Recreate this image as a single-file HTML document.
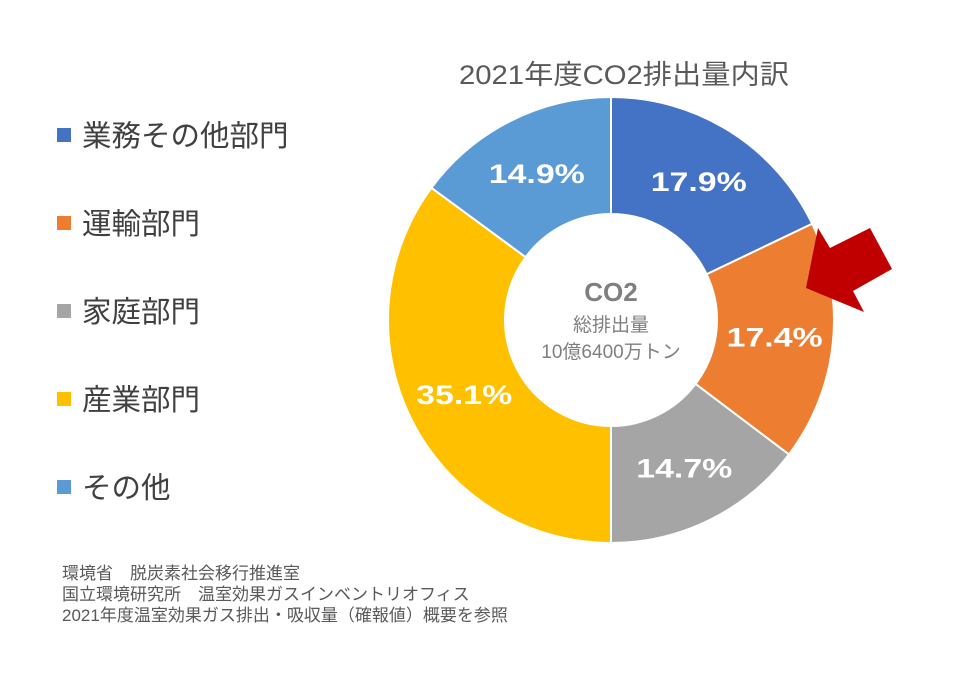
<!DOCTYPE html>
<html><head><meta charset="utf-8"><style>
body{margin:0;background:#fff;}
svg text{font-family:"Liberation Sans","Noto Sans CJK JP",sans-serif;}
</style></head><body>
<svg id="chart" width="973" height="679" viewBox="0 0 973 679" xmlns="http://www.w3.org/2000/svg">
<rect width="973" height="679" fill="#fff"/>
<text x="624" y="84" font-size="27" fill="#595959" text-anchor="middle" textLength="330" lengthAdjust="spacingAndGlyphs">2021年度CO2排出量内訳</text>
<g id="legend"></g>
<g id="slices"></g>
<g text-anchor="middle" fill="#7f7f7f">
<text x="611" y="301" font-size="26" font-weight="bold">CO2</text>
<text x="611" y="331" font-size="19">総排出量</text>
<text x="611" y="358" font-size="19">10億6400万トン</text>
</g>
<polygon points="806,288 818,228 830,248 870,228 892,269 853,291 864,312" fill="#c00000"/>
<g font-size="17" fill="#595959">
<text x="62" y="579">環境省　脱炭素社会移行推進室</text>
<text x="62" y="600">国立環境研究所　温室効果ガスインベントリオフィス</text>
<text x="62" y="621">2021年度温室効果ガス排出・吸収量（確報値）概要を参照</text>
</g>
</svg>
<script>
const categories=["業務その他部門","運輸部門","家庭部門","産業部門","その他"];
const values=[17.9,17.4,14.7,35.1,14.9];
const colors=["#4472c4","#ed7d31","#a5a5a5","#ffc000","#5b9bd5"];
const NS="http://www.w3.org/2000/svg";
const cx=611,cy=320,R=223,r=106;
const total=values.reduce((a,b)=>a+b,0);
const sl=document.getElementById('slices');
function pt(a,rad){return [cx+rad*Math.sin(a),cy-rad*Math.cos(a)];}
let acc=0;
values.forEach((v,i)=>{
  const a0=acc/total*2*Math.PI; acc+=v; const a1=acc/total*2*Math.PI;
  const large=(a1-a0)>Math.PI?1:0;
  const p0=pt(a0,R),p1=pt(a1,R),q1=pt(a1,r),q0=pt(a0,r);
  const p=document.createElementNS(NS,'path');
  p.setAttribute('d',`M${p0}A${R},${R} 0 ${large} 1 ${p1}L${q1}A${r},${r} 0 ${large} 0 ${q0}Z`);
  p.setAttribute('fill',colors[i]);p.setAttribute('stroke','#fff');p.setAttribute('stroke-width','2');
  
  
  sl.appendChild(p);
  const m=(a0+a1)/2,lp=pt(m,(R+r)/2);
  const t=document.createElementNS(NS,'text');
  t.setAttribute('x',lp[0]);t.setAttribute('y',lp[1]+10);
  t.setAttribute('text-anchor','middle');t.setAttribute('font-size','27');t.setAttribute('font-weight','bold');t.setAttribute('fill','#fff');
  t.setAttribute('textLength','96');t.setAttribute('lengthAdjust','spacingAndGlyphs');
  t.textContent=v.toFixed(1)+'%';
  
  
  sl.appendChild(t);
});
const lg=document.getElementById('legend');
categories.forEach((c,i)=>{
  const y=135+i*88;
  const g=document.createElementNS(NS,'g');
  
  
  const rc=document.createElementNS(NS,'rect');
  rc.setAttribute('x',57);rc.setAttribute('y',y-7);rc.setAttribute('width',14);rc.setAttribute('height',14);rc.setAttribute('fill',colors[i]);
  const t=document.createElementNS(NS,'text');
  t.setAttribute('x',82);t.setAttribute('y',y+11);t.setAttribute('font-size','29.5');t.setAttribute('fill','#404040');
  t.textContent=c;
  g.appendChild(rc);g.appendChild(t);lg.appendChild(g);
});
</script>
</body></html>
